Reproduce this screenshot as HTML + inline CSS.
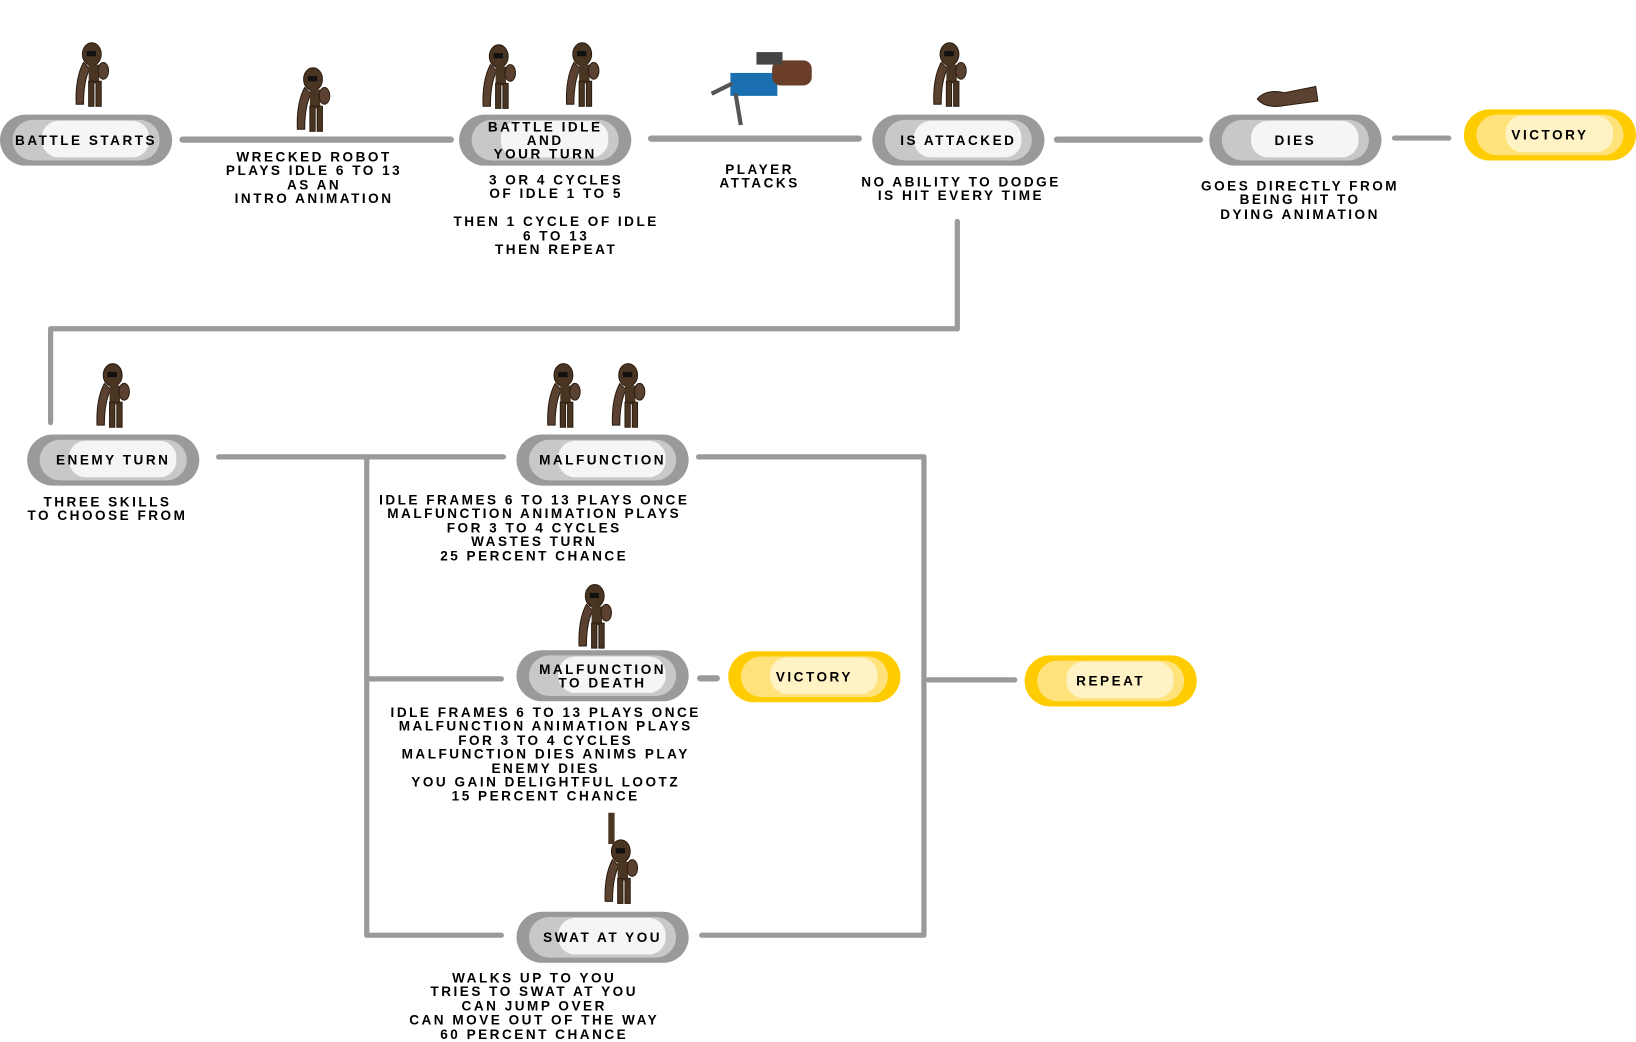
<!DOCTYPE html>
<html><head><meta charset="utf-8"><style>
html,body{margin:0;padding:0;background:#fff;width:1636px;height:1042px;overflow:hidden}
#w{position:absolute;left:0;top:0;width:1568px;height:1000px;transform-origin:0 0;transform:scale(1.0434,1.042)}
.p{position:absolute;width:165px;height:49px;border-radius:25px;background:#9a9a9a}
.p .m{position:absolute;left:12px;right:12px;top:5px;bottom:5px;border-radius:20px;background:#c8c8c8}
.p .i{position:absolute;left:40px;right:22px;top:6px;bottom:8px;border-radius:16px;background:#f5f5f5}
.p.y{background:#ffcc00}.p.y .m{background:#ffe27a}.p.y .i{background:#fff2c4}
.p .t{position:absolute;left:0;right:0;top:0;bottom:0;display:flex;align-items:center;justify-content:center;text-align:center;line-height:13px}
.t,.tx{font-family:"Liberation Sans",sans-serif;font-weight:bold;font-size:13px;letter-spacing:2.4px;color:#000}
.tx{position:absolute;text-align:center;line-height:13.4px;white-space:nowrap;transform:translateX(-50%)}
.l{position:absolute;background:#9a9a9a;border-radius:3px}
</style></head><body><div id="w">
<svg width="1568" height="1000" style="position:absolute;left:0;top:0">
<defs><g id="rb"><ellipse cx="20" cy="12" rx="9" ry="11" fill="#4a3522" stroke="#2a1c10"/><rect x="15" y="9" width="9" height="5" fill="#111"/><path d="M12 20 Q4 35 5 60 L12 60 Q12 38 18 26Z" fill="#5b4230" stroke="#2a1c10"/><rect x="17" y="22" width="10" height="18" fill="#4a3522"/><rect x="17" y="38" width="5" height="24" fill="#4a3522" stroke="#2a1c10"/><rect x="24" y="38" width="5" height="24" fill="#4a3522" stroke="#2a1c10"/><ellipse cx="31" cy="28" rx="5" ry="8" fill="#5b4230" stroke="#2a1c10"/></g></defs>
<use href="#rb" x="68" y="40"/><use href="#rb" x="280" y="64"/><use href="#rb" x="458" y="42"/><use href="#rb" x="538" y="40"/>
<use href="#rb" x="890" y="40"/><use href="#rb" x="88" y="348"/><use href="#rb" x="520" y="348"/><use href="#rb" x="582" y="348"/>
<use href="#rb" x="550" y="560"/><use href="#rb" x="575" y="805"/>
<rect x="583" y="780" width="6" height="30" fill="#4a3522"/>
<g transform="translate(1203,83)"><path d="M2 12 Q10 2 28 6 L58 0 L60 14 L30 18 Q10 22 2 12Z" fill="#5b4230" stroke="#2a1c10"/></g>
<g transform="translate(680,50)"><rect x="20" y="20" width="45" height="22" fill="#1a6fb0"/><rect x="60" y="8" width="38" height="24" rx="8" fill="#6a3e28"/><line x1="25" y1="40" x2="30" y2="70" stroke="#555" stroke-width="4"/><line x1="22" y1="30" x2="2" y2="40" stroke="#555" stroke-width="4"/><rect x="45" y="0" width="25" height="12" fill="#444"/></g>
</svg>
<div class="l" style="left:172px;top:131px;width:263px;height:6px"></div>
<div class="l" style="left:621px;top:130px;width:205px;height:6px"></div>
<div class="l" style="left:1010px;top:131px;width:143px;height:6px"></div>
<div class="l" style="left:1334px;top:130px;width:57px;height:5px"></div>
<div class="l" style="left:915px;top:210px;width:5px;height:108px"></div>
<div class="l" style="left:46px;top:313px;width:874px;height:5px"></div>
<div class="l" style="left:46px;top:313px;width:5px;height:95px"></div>
<div class="l" style="left:207px;top:436px;width:278px;height:5px"></div>
<div class="l" style="left:349px;top:436px;width:5px;height:464px"></div>
<div class="l" style="left:349px;top:649px;width:134px;height:5px"></div>
<div class="l" style="left:349px;top:895px;width:134px;height:5px"></div>
<div class="l" style="left:667px;top:436px;width:221px;height:5px"></div>
<div class="l" style="left:883px;top:436px;width:5px;height:464px"></div>
<div class="l" style="left:670px;top:895px;width:218px;height:5px"></div>
<div class="l" style="left:668px;top:648px;width:22px;height:6px"></div>
<div class="l" style="left:887px;top:650px;width:88px;height:5px"></div>

<div class="p" style="left:0;top:110px"><div class="m"></div><div class="i"></div><div class="t">BATTLE STARTS</div></div>
<div class="p" style="left:440px;top:110px"><div class="m"></div><div class="i"></div><div class="t">BATTLE IDLE<br>AND<br>YOUR TURN</div></div>
<div class="p" style="left:836px;top:110px"><div class="m"></div><div class="i"></div><div class="t">IS ATTACKED</div></div>
<div class="p" style="left:1159px;top:110px"><div class="m"></div><div class="i"></div><div class="t">DIES</div></div>
<div class="p y" style="left:1403px;top:105px"><div class="m"></div><div class="i"></div><div class="t">VICTORY</div></div>
<div class="p" style="left:26px;top:417px"><div class="m"></div><div class="i"></div><div class="t">ENEMY TURN</div></div>
<div class="p" style="left:495px;top:417px"><div class="m"></div><div class="i"></div><div class="t">MALFUNCTION</div></div>
<div class="p" style="left:495px;top:624px"><div class="m"></div><div class="i"></div><div class="t">MALFUNCTION<br>TO DEATH</div></div>
<div class="p y" style="left:698px;top:625px"><div class="m"></div><div class="i"></div><div class="t">VICTORY</div></div>
<div class="p y" style="left:982px;top:629px"><div class="m"></div><div class="i"></div><div class="t">REPEAT</div></div>
<div class="p" style="left:495px;top:875px"><div class="m"></div><div class="i"></div><div class="t">SWAT AT YOU</div></div>

<div class="tx" style="left:301px;top:144px">WRECKED ROBOT<br>PLAYS IDLE 6 TO 13<br>AS AN<br>INTRO ANIMATION</div>
<div class="tx" style="left:533px;top:166px">3 OR 4 CYCLES<br>OF IDLE 1 TO 5<br><br>THEN 1 CYCLE OF IDLE<br>6 TO 13<br>THEN REPEAT</div>
<div class="tx" style="left:728px;top:156px">PLAYER<br>ATTACKS</div>
<div class="tx" style="left:921px;top:168px">NO ABILITY TO DODGE<br>IS HIT EVERY TIME</div>
<div class="tx" style="left:1246px;top:172px">GOES DIRECTLY FROM<br>BEING HIT TO<br>DYING ANIMATION</div>
<div class="tx" style="left:103px;top:475px">THREE SKILLS<br>TO CHOOSE FROM</div>
<div class="tx" style="left:512px;top:473px">IDLE FRAMES 6 TO 13 PLAYS ONCE<br>MALFUNCTION ANIMATION PLAYS<br>FOR 3 TO 4 CYCLES<br>WASTES TURN<br>25 PERCENT CHANCE</div>
<div class="tx" style="left:523px;top:677px">IDLE FRAMES 6 TO 13 PLAYS ONCE<br>MALFUNCTION ANIMATION PLAYS<br>FOR 3 TO 4 CYCLES<br>MALFUNCTION DIES ANIMS PLAY<br>ENEMY DIES<br>YOU GAIN DELIGHTFUL LOOTZ<br>15 PERCENT CHANCE</div>
<div class="tx" style="left:512px;top:932px">WALKS UP TO YOU<br>TRIES TO SWAT AT YOU<br>CAN JUMP OVER<br>CAN MOVE OUT OF THE WAY<br>60 PERCENT CHANCE</div>
</div></body></html>
